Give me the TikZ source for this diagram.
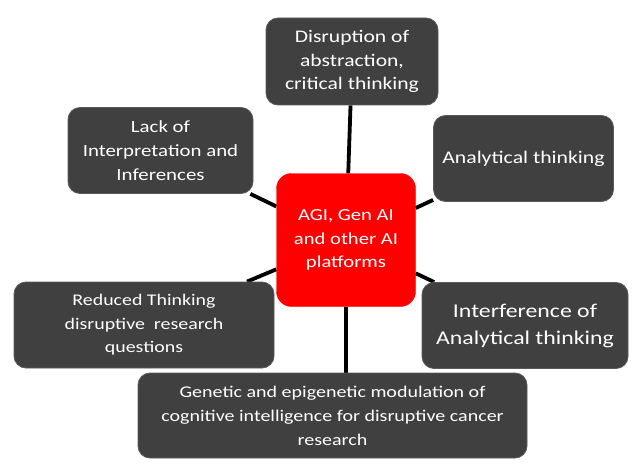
\documentclass[tikz,border=0pt]{standalone}
\usepackage{fontspec}
\setmainfont{Carlito}[FakeStretch=1.22]
\usepackage{xcolor}
\usepackage{tikz}
\usetikzlibrary{positioning}

\definecolor{boxgray}{RGB}{64,64,64}
\definecolor{boxedge}{RGB}{90,90,90}
\definecolor{hubred}{RGB}{255,0,0}
\pgfdeclarelayer{background}
\pgfsetlayers{background,main}
\newcommand{\boxfont}[2]{\fontsize{#1}{#2}\selectfont}

\begin{document}
\begin{tikzpicture}[x=1pt, y=-1pt,
  issue/.style={fill=boxgray, draw=boxedge, line width=0.8pt, rounded corners=12pt,
    text=white, align=center, inner sep=0pt, font=\boxfont{17}{24}},
  hub/.style={fill=hubred, draw=hubred, rounded corners=15pt, text=white,
    align=center, inner sep=0pt, font=\boxfont{16.9}{23.5}},
  link/.style={line width=3.8pt, black}
]
  \useasboundingbox (0,0) rectangle (642,476);

  % ======= centre =======
  \node[hub, minimum width=139pt, minimum height=133pt] (hub) at (346,240)
    {AGI, Gen AI\\and other AI\\platforms};

  % ======= surrounding boxes =======
  \node[issue, minimum width=172pt, minimum height=87pt, font=\boxfont{17.7}{23.5}]
    (disr) at (352,61.5) {Disruption of\\abstraction,\\critical thinking};
  \node[issue, minimum width=185pt, minimum height=86pt, font=\boxfont{17.1}{24}]
    (lack) at (160.5,150.5) {Lack of\\Interpretation and\\Inferences};
  \node[issue, minimum width=180pt, minimum height=86pt, font=\boxfont{17.8}{24}]
    (anal) at (523.5,158.5) {Analytical thinking};
  \node[issue, minimum width=260pt, minimum height=86pt, font=\boxfont{16.3}{23.5}]
    (redu) at (144,325) {Reduced Thinking\\disruptive~ research\\questions};
  \node[issue, minimum width=206pt, minimum height=86pt, font=\boxfont{19.5}{27}]
    (intf) at (525,325.5) {Interference of\\Analytical thinking};
  \node[issue, minimum width=389pt, minimum height=85pt, font=\boxfont{16.4}{24}]
    (gene) at (332.5,415.5)
    {Genetic and epigenetic modulation of\\cognitive intelligence for disruptive cancer\\research};

  % ======= connectors (behind the boxes) =======
  \begin{pgfonlayer}{background}
    \draw[link] (disr) -- (hub);
    \draw[link] (lack) -- (hub);
    \draw[link] (anal) -- (hub);
    \draw[link] (redu) -- (hub);
    \draw[link] (intf) -- (hub);
    \draw[link] (hub.south) -- (hub.south |- gene.north);
  \end{pgfonlayer}

\end{tikzpicture}
\end{document}
